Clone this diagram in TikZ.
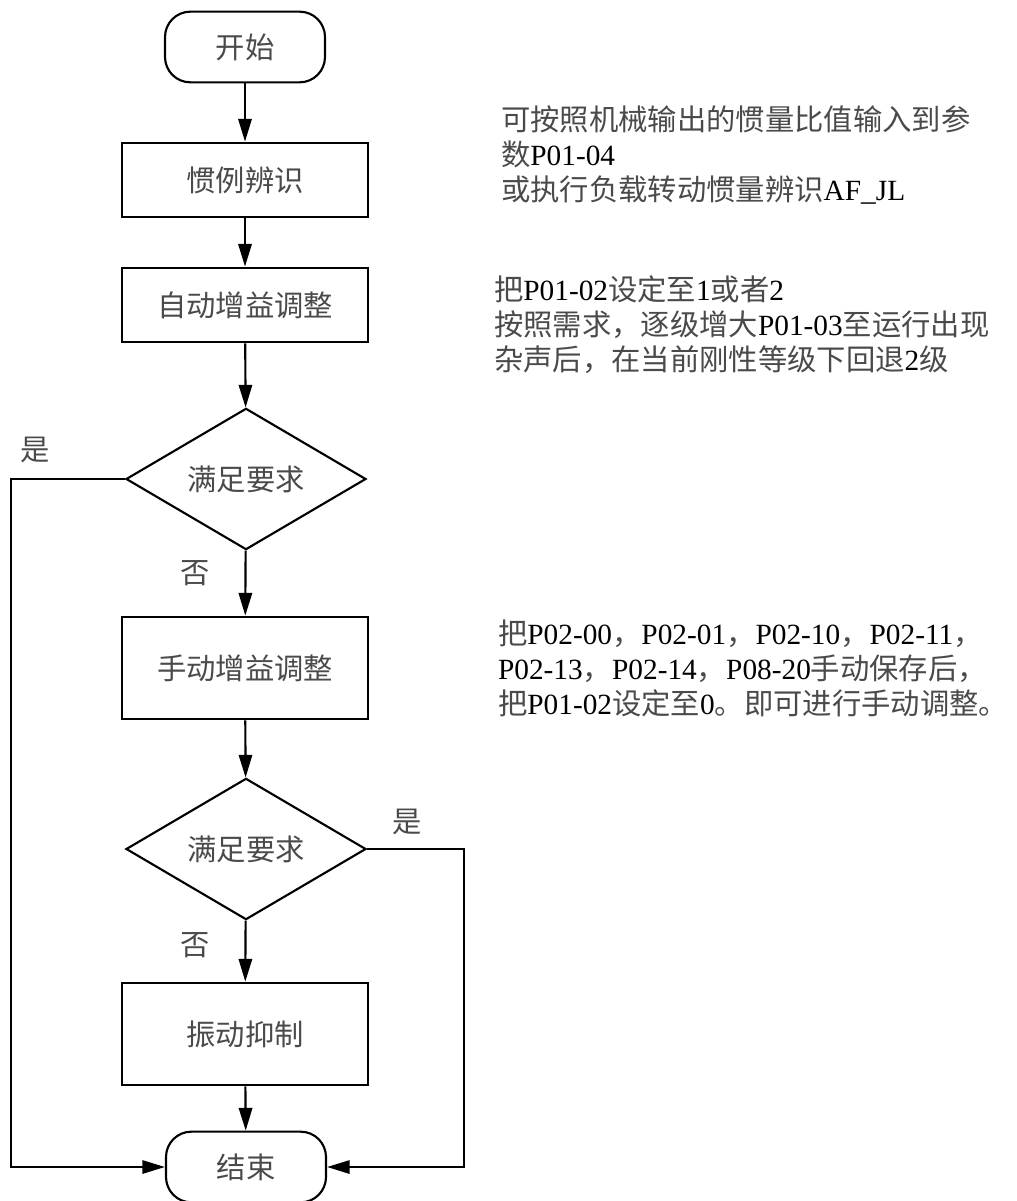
\documentclass[tikz,border=0pt]{standalone}
\usepackage{fontspec}
\setmainfont{Liberation Serif}
\newfontfamily\cjk[Color=4A4A4A]{Noto Sans CJK SC}
\newcommand{\zh}[1]{{\cjk #1}}
\usetikzlibrary{arrows.meta,shapes.geometric}

\begin{document}
\begin{tikzpicture}[x=0.75pt,y=-0.75pt,line width=1.6pt,>={Triangle[length=17pt,width=10pt]},
  font=\fontsize{22}{26.3}\selectfont,
  term/.style={draw,rectangle,rounded corners=19pt,minimum width=120pt,minimum height=53pt,inner sep=0pt},
  proc/.style={draw,rectangle,minimum width=184.5pt,minimum height=56pt,inner sep=0pt},
  decide/.style={draw,diamond,aspect=1.7,minimum width=180pt,minimum height=106pt,inner sep=0pt},
  flow/.style={->},
  lbl/.style={inner sep=0pt},
  note/.style={inner sep=0pt,anchor=west,align=left}]
  \useasboundingbox (0,0) rectangle (1016,1201);
  % flussdiagramm
  \node[term] (start) at (245,47) {\zh{开始}};
  \node[proc] (ident) at (245,180) {\zh{惯例辨识}};
  \node[proc] (auto) at (245,305) {\zh{自动增益调整}};
  \node[decide] (ok1) at (246,479) {\zh{满足要求}};
  \node[proc,minimum height=77pt] (manual) at (245,668) {\zh{手动增益调整}};
  \node[decide] (ok2) at (246,849) {\zh{满足要求}};
  \node[proc,minimum height=77pt] (vib) at (245,1034) {\zh{振动抑制}};
  \node[term] (stop) at (246,1167) {\zh{结束}};
  \draw[flow] (start) -- (ident);
  \draw[flow] (ident) -- (auto);
  \draw[flow] (auto) -- (ok1);
  \draw[flow] (ok1) -- (manual);
  \draw[flow] (manual) -- (ok2);
  \draw[flow] (ok2) -- (vib);
  \draw[flow] (vib) -- (stop);
  \draw[flow] (ok1.west) -- ++(-114,0) |- (stop.west);
  \draw[flow] (ok2.east) -- ++(97,0) |- (stop.east);
  \node[lbl] (yes1) at (35,450) {\zh{是}};
  \node[lbl] (no1) at (195,573) {\zh{否}};
  \node[lbl] (yes2) at (407,822) {\zh{是}};
  \node[lbl] (no2) at (195,945) {\zh{否}};
  % erlaeuterungen rechts
  \node[note] (txt1) at (500,155) {\zh{可按照机械输出的惯量比值输入到参}\\
    \zh{数}P01-04\\
    \zh{或执行负载转动惯量辨识}AF\_JL};
  \node[note] (txt2) at (493,325) {\zh{把}P01-02\zh{设定至}1\zh{或者}2\\
    \zh{按照需求，逐级增大}P01-03\zh{至运行出现}\\
    \zh{杂声后，在当前刚性等级下回退}2\zh{级}};
  \node[note] (txt3) at (497,668) {\zh{把}P02-00\zh{，}P02-01\zh{，}P02-10\zh{，}P02-11\zh{，}\\
    P02-13\zh{，}P02-14\zh{，}P08-20\zh{手动保存后，}\\
    \zh{把}P01-02\zh{设定至}0\zh{。即可进行手动调整。}};
\end{tikzpicture}
\end{document}
